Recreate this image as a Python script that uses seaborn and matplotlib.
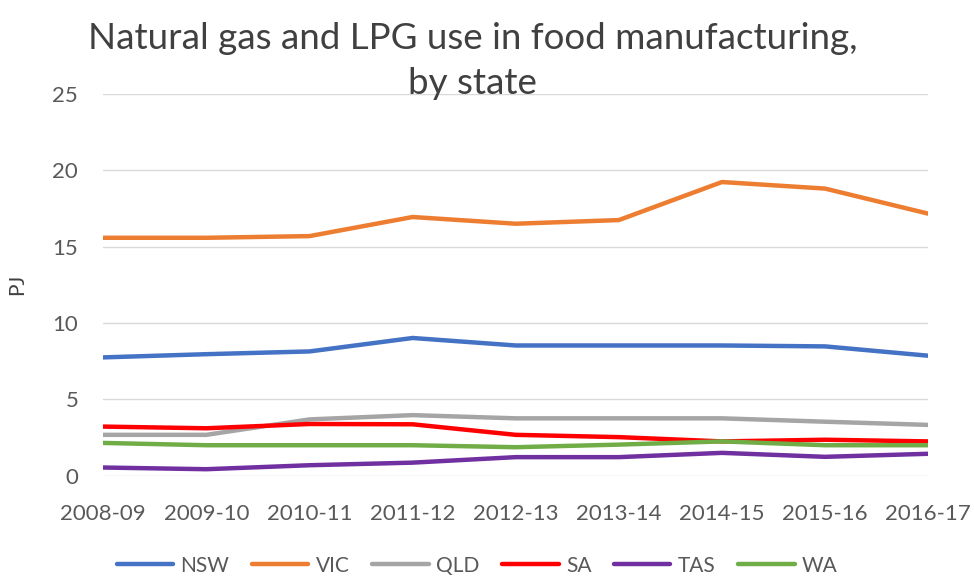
import matplotlib
matplotlib.use('Agg')
import matplotlib.pyplot as plt
import seaborn as sns
import pandas as pd


YEARS = ['2008-09', '2009-10', '2010-11', '2011-12', '2012-13',
         '2013-14', '2014-15', '2015-16', '2016-17']
NSW = [7.75, 7.96, 8.14, 9.02, 8.53, 8.53, 8.53, 8.47, 7.86]
VIC = [15.58, 15.58, 15.69, 16.94, 16.5, 16.74, 19.23, 18.8, 17.16]
QLD = [2.68, 2.68, 3.69, 3.97, 3.76, 3.76, 3.76, 3.54, 3.33]
SA = [3.22, 3.11, 3.39, 3.37, 2.68, 2.53, 2.25, 2.36, 2.25]
TAS = [0.54, 0.43, 0.69, 0.86, 1.22, 1.22, 1.5, 1.24, 1.44]
WA = [2.15, 2.0, 2.0, 2.0, 1.87, 2.04, 2.25, 2.0, 2.0]
STATES = ['NSW', 'VIC', 'QLD', 'SA', 'TAS', 'WA']
COLORS = ['#4472C4', '#ED7D31', '#A5A5A5', '#FF0000', '#7030A0', '#70AD47']


def build_frame():
    series = dict(zip(STATES, [NSW, VIC, QLD, SA, TAS, WA]))
    rows = []
    for state, vals in series.items():
        for year, v in zip(YEARS, vals):
            rows.append({'year': year, 'state': state, 'PJ': v})
    return pd.DataFrame(rows)


def main():
    sns.set_style('white')
    plt.rcParams['font.family'] = ['Lato', 'DejaVu Sans']
    df = build_frame()

    fig = plt.figure(figsize=(9.74, 5.76), dpi=100)
    ax = fig.add_axes([0.106, 0.174, 0.847, 0.663])
    sns.lineplot(data=df, x='year', y='PJ', hue='state', hue_order=STATES,
                 palette=COLORS, linewidth=3.2, sort=False, ax=ax, legend=False)

    ax.set_xlim(0, len(YEARS) - 1)
    ax.set_ylim(0, 25)
    ax.set_yticks([0, 5, 10, 15, 20, 25])
    ax.yaxis.grid(True, color='#D9D9D9', linewidth=1)
    ax.set_axisbelow(True)
    for s in ax.spines.values():
        s.set_visible(False)
    ax.tick_params(axis='both', length=0, labelsize=16, labelcolor='#595959')
    ax.tick_params(axis='x', pad=20)
    ax.tick_params(axis='y', pad=18)
    ax.set_xlabel('')
    ax.set_ylabel('PJ', fontsize=15, color='#404040', labelpad=18)

    fig.text(0.485, 0.962, 'Natural gas and LPG use in food manufacturing,\nby state',
             ha='center', va='top', fontsize=26.5, color='#404040',
             linespacing=1.45)

    handles = [plt.Line2D([], [], color=c, linewidth=3.2) for c in COLORS]
    fig.legend(handles, STATES, loc='center', bbox_to_anchor=(0.49, 0.018),
               ncol=6, frameon=False, fontsize=15, handlelength=2.7,
               columnspacing=1.1, handletextpad=0.35, labelcolor='#595959')

    fig.savefig('out.png', dpi=100)
    plt.close(fig)


if __name__ == '__main__':
    main()
